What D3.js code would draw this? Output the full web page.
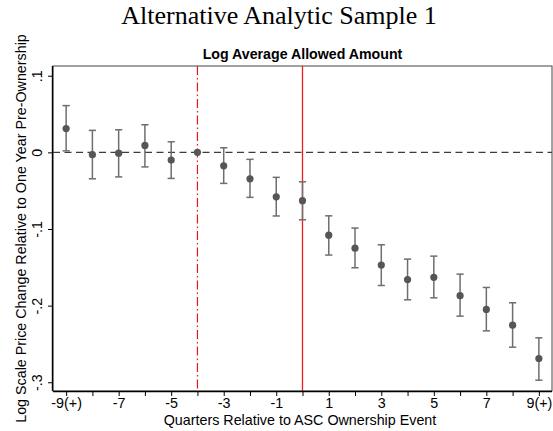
<!DOCTYPE html>
<html>
<head>
<meta charset="utf-8">
<script src="https://cdn.jsdelivr.net/npm/d3@7"></script>
<style>
  html, body { margin: 0; padding: 0; background: #fff; }
  svg { display: block; }
</style>
</head>
<body>
<svg id="chart" width="553" height="431"></svg>
<script>
// Event-study estimates by quarter relative to ownership event
const quarters = [-9, -8, -7, -6, -5, -4, -3, -2, -1, 0, 1, 2, 3, 4, 5, 6, 7, 8, 9];
const estimates = [0.031, -0.003, -0.001, 0.009, -0.010, 0.000, -0.0175, -0.0345, -0.058,
                   -0.063, -0.108, -0.125, -0.147, -0.166, -0.163, -0.187, -0.205, -0.2255, -0.269];
const ciLow  = [0.002, -0.0345, -0.032, -0.019, -0.034, 0.000, -0.0405, -0.0587, -0.083,
                -0.088, -0.134, -0.1506, -0.1737, -0.1924, -0.1898, -0.2137, -0.2329, -0.2542, -0.2973];
const ciHigh = [0.061, 0.0287, 0.0295, 0.036, 0.0138, 0.000, 0.006, -0.0091, -0.0326,
                -0.0384, -0.0828, -0.0988, -0.1206, -0.1393, -0.1354, -0.1589, -0.1763, -0.1963, -0.242];

const xTickValues = d3.range(-9, 10);
const xTickLabels = {"-9": "-9(+)", "-7": "-7", "-5": "-5", "-3": "-3", "-1": "-1",
                     "1": "1", "3": "3", "5": "5", "7": "7", "9": "9(+)"};
const yTickValues = [0.1, 0, -0.1, -0.2, -0.3];
const yTickLabels = [".1", "0", "-.1", "-.2", "-.3"];

const refLineDashed = -4;   // one year pre-ownership
const refLineSolid = 0;     // ownership event

const svg = d3.select("#chart");
const plot = {left: 53, right: 552, top: 66, bottom: 391};

const x = d3.scaleLinear().domain([-9.5, 9.5]).range([plot.left, plot.right]);
const y = d3.scaleLinear().domain([-0.3114, 0.1127]).range([plot.bottom, plot.top]);

const sans = "'Liberation Sans', Arial, Helvetica, sans-serif";
const fs = "14.3px";

// Titles
svg.append("text")
  .attr("x", 279).attr("y", 24)
  .attr("text-anchor", "middle")
  .style("font-family", "'Liberation Serif', 'Times New Roman', serif")
  .style("font-size", "26px")
  .attr("fill", "#000")
  .text("Alternative Analytic Sample 1");

svg.append("text")
  .attr("x", (plot.left + plot.right) / 2).attr("y", 59)
  .attr("text-anchor", "middle")
  .style("font-family", sans)
  .style("font-size", "14.2px")
  .style("font-weight", "bold")
  .text("Log Average Allowed Amount");

// Plot frame (top and right)
svg.append("rect")
  .attr("x", plot.left).attr("y", plot.top)
  .attr("width", plot.right - plot.left).attr("height", plot.bottom - plot.top)
  .attr("fill", "none").attr("stroke", "#444").attr("stroke-width", 1);

// Zero reference line
svg.append("line")
  .attr("x1", plot.left).attr("x2", plot.right)
  .attr("y1", y(0)).attr("y2", y(0))
  .attr("stroke", "#3c3c3c").attr("stroke-width", 1.2)
  .attr("stroke-dasharray", "7,4.5");

// Vertical event markers
svg.append("line")
  .attr("x1", x(refLineDashed)).attr("x2", x(refLineDashed))
  .attr("y1", plot.top).attr("y2", plot.bottom)
  .attr("stroke", "#e8161b").attr("stroke-width", 1.2)
  .attr("stroke-dasharray", "9,3,1.5,3");

svg.append("line")
  .attr("x1", x(refLineSolid)).attr("x2", x(refLineSolid))
  .attr("y1", plot.top).attr("y2", plot.bottom)
  .attr("stroke", "#ee1c1c").attr("stroke-width", 1.3);

// Axes
const xAxis = d3.axisBottom(x)
  .tickValues(xTickValues)
  .tickSize(5)
  .tickFormat(d => xTickLabels[String(d)] || "");
const gx = svg.append("g")
  .attr("transform", `translate(0,${plot.bottom})`)
  .call(xAxis);
gx.select(".domain").attr("d", `M${plot.left},0.5H${plot.right}`).attr("stroke", "#000").attr("stroke-width", 1.4);
gx.selectAll(".tick line").attr("stroke", "#000").attr("stroke-width", 1);
gx.selectAll(".tick text")
  .attr("y", 7)
  .style("font-family", sans).style("font-size", fs).attr("fill", "#000");

const yAxis = d3.axisLeft(y)
  .tickValues(yTickValues)
  .tickSize(5)
  .tickFormat((d, i) => yTickLabels[i]);
const gy = svg.append("g")
  .attr("transform", `translate(${plot.left},0)`)
  .call(yAxis);
gy.select(".domain").attr("d", `M-0.5,${plot.top}V${plot.bottom}`).attr("stroke", "#000").attr("stroke-width", 1.4);
gy.selectAll(".tick line").attr("stroke", "#000").attr("stroke-width", 1);
gy.selectAll(".tick text")
  .attr("x", null).attr("dy", null)
  .attr("text-anchor", "middle")
  .attr("transform", "translate(-11,0) rotate(-90)")
  .style("font-family", sans).style("font-size", fs).attr("fill", "#000");

// Axis titles
svg.append("text")
  .attr("x", 300).attr("y", 425)
  .attr("text-anchor", "middle")
  .style("font-family", sans).style("font-size", fs)
  .text("Quarters Relative to ASC Ownership Event");

svg.append("text")
  .attr("transform", `translate(26,${(plot.top + plot.bottom) / 2}) rotate(-90)`)
  .attr("text-anchor", "middle")
  .style("font-family", sans).style("font-size", fs)
  .text("Log Scale Price Change Relative to One Year Pre-Ownership");

// Confidence intervals and point estimates
const rows = quarters.map((q, i) => ({q, est: estimates[i], lo: ciLow[i], hi: ciHigh[i]}));
const capHalf = 3.6;
const ci = svg.append("g").attr("stroke", "#6e6e6e").attr("stroke-width", 1.5).attr("fill", "none");
rows.filter(d => d.hi !== d.lo).forEach(d => {
  ci.append("line").attr("x1", x(d.q)).attr("x2", x(d.q)).attr("y1", y(d.lo)).attr("y2", y(d.hi));
  ci.append("line").attr("x1", x(d.q) - capHalf).attr("x2", x(d.q) + capHalf).attr("y1", y(d.lo)).attr("y2", y(d.lo));
  ci.append("line").attr("x1", x(d.q) - capHalf).attr("x2", x(d.q) + capHalf).attr("y1", y(d.hi)).attr("y2", y(d.hi));
});

svg.append("g").selectAll("circle")
  .data(rows)
  .join("circle")
  .attr("cx", d => x(d.q))
  .attr("cy", d => y(d.est))
  .attr("r", 3.6)
  .attr("fill", "#565656");
</script>
</body>
</html>
